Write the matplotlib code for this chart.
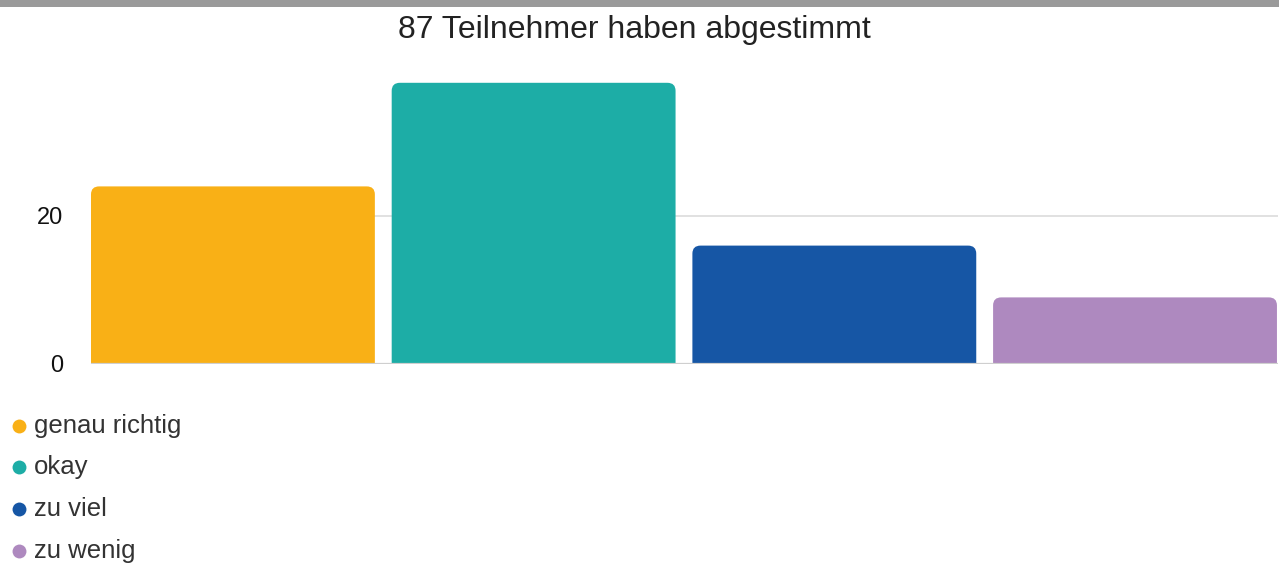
import matplotlib
matplotlib.use("Agg")
import matplotlib.pyplot as plt
from matplotlib.patches import FancyBboxPatch, Rectangle
from matplotlib.lines import Line2D

categories = ["genau richtig", "okay", "zu viel", "zu wenig"]
values = [24, 38, 16, 9]
colors = ["#F9B016", "#1DADA6", "#1656A5", "#AE89BF"]
title = "87 Teilnehmer haben abgestimmt"
yticks = [0, 20]

plt.rcParams['font.family'] = ['Liberation Sans', 'DejaVu Sans']

W, H = 1279, 569
fig = plt.figure(figsize=(W / 100, H / 100), dpi=100)
ax = fig.add_axes([91 / W, (H - 364) / H, (1278 - 91) / W, (364 - 68) / H])

x = list(range(len(categories)))
bars = ax.bar(x, values, width=0.944, color=colors, zorder=3)
# replace rectangles by top-rounded boxes
for b, c in zip(bars, colors):
    b.set_visible(False)
    bx, bw, bh = b.get_x(), b.get_width(), b.get_height()
    p = FancyBboxPatch((bx, -3), bw, bh + 3,
                       boxstyle="round,pad=0,rounding_size=0.027",
                       mutation_aspect=40, facecolor=c, edgecolor="none",
                       zorder=3, clip_on=True)
    ax.add_patch(p)

ax.set_xlim(-0.472, 3.4755)
ax.set_ylim(0, 40)
ax.set_yticks(yticks)
ax.set_yticklabels([str(t) for t in yticks], fontsize=17, color="#111111")
ax.tick_params(axis='y', length=0, pad=20)
ax.set_xticks([])
for s in ax.spines.values():
    s.set_visible(False)
ax.axhline(20, color="#dcdcdc", lw=1.2, zorder=1)
ax.axhline(0, color="#cfcfcf", lw=1.6, zorder=4)
ax.patch.set_alpha(0)

# top gray band
fig.add_artist(Rectangle((0, 1 - 7 / H), 1, 7 / H, transform=fig.transFigure,
                         facecolor="#9a9a9a", edgecolor="none"))

fig.text(634 / W, 1 - 30 / H, title, ha="center", va="center",
         fontsize=23, color="#222222")

ys = [426, 467, 509, 551]
for lab, c, yy in zip(categories, colors, ys):
    fig.add_artist(Line2D([19 / W], [1 - yy / H], marker='o', markersize=10,
                          color=c, markeredgewidth=0, transform=fig.transFigure))
    fig.text(34 / W, 1 - yy / H, lab, ha="left", va="center",
             fontsize=18.5, color="#333333")

fig.savefig("out.png", dpi=100)
